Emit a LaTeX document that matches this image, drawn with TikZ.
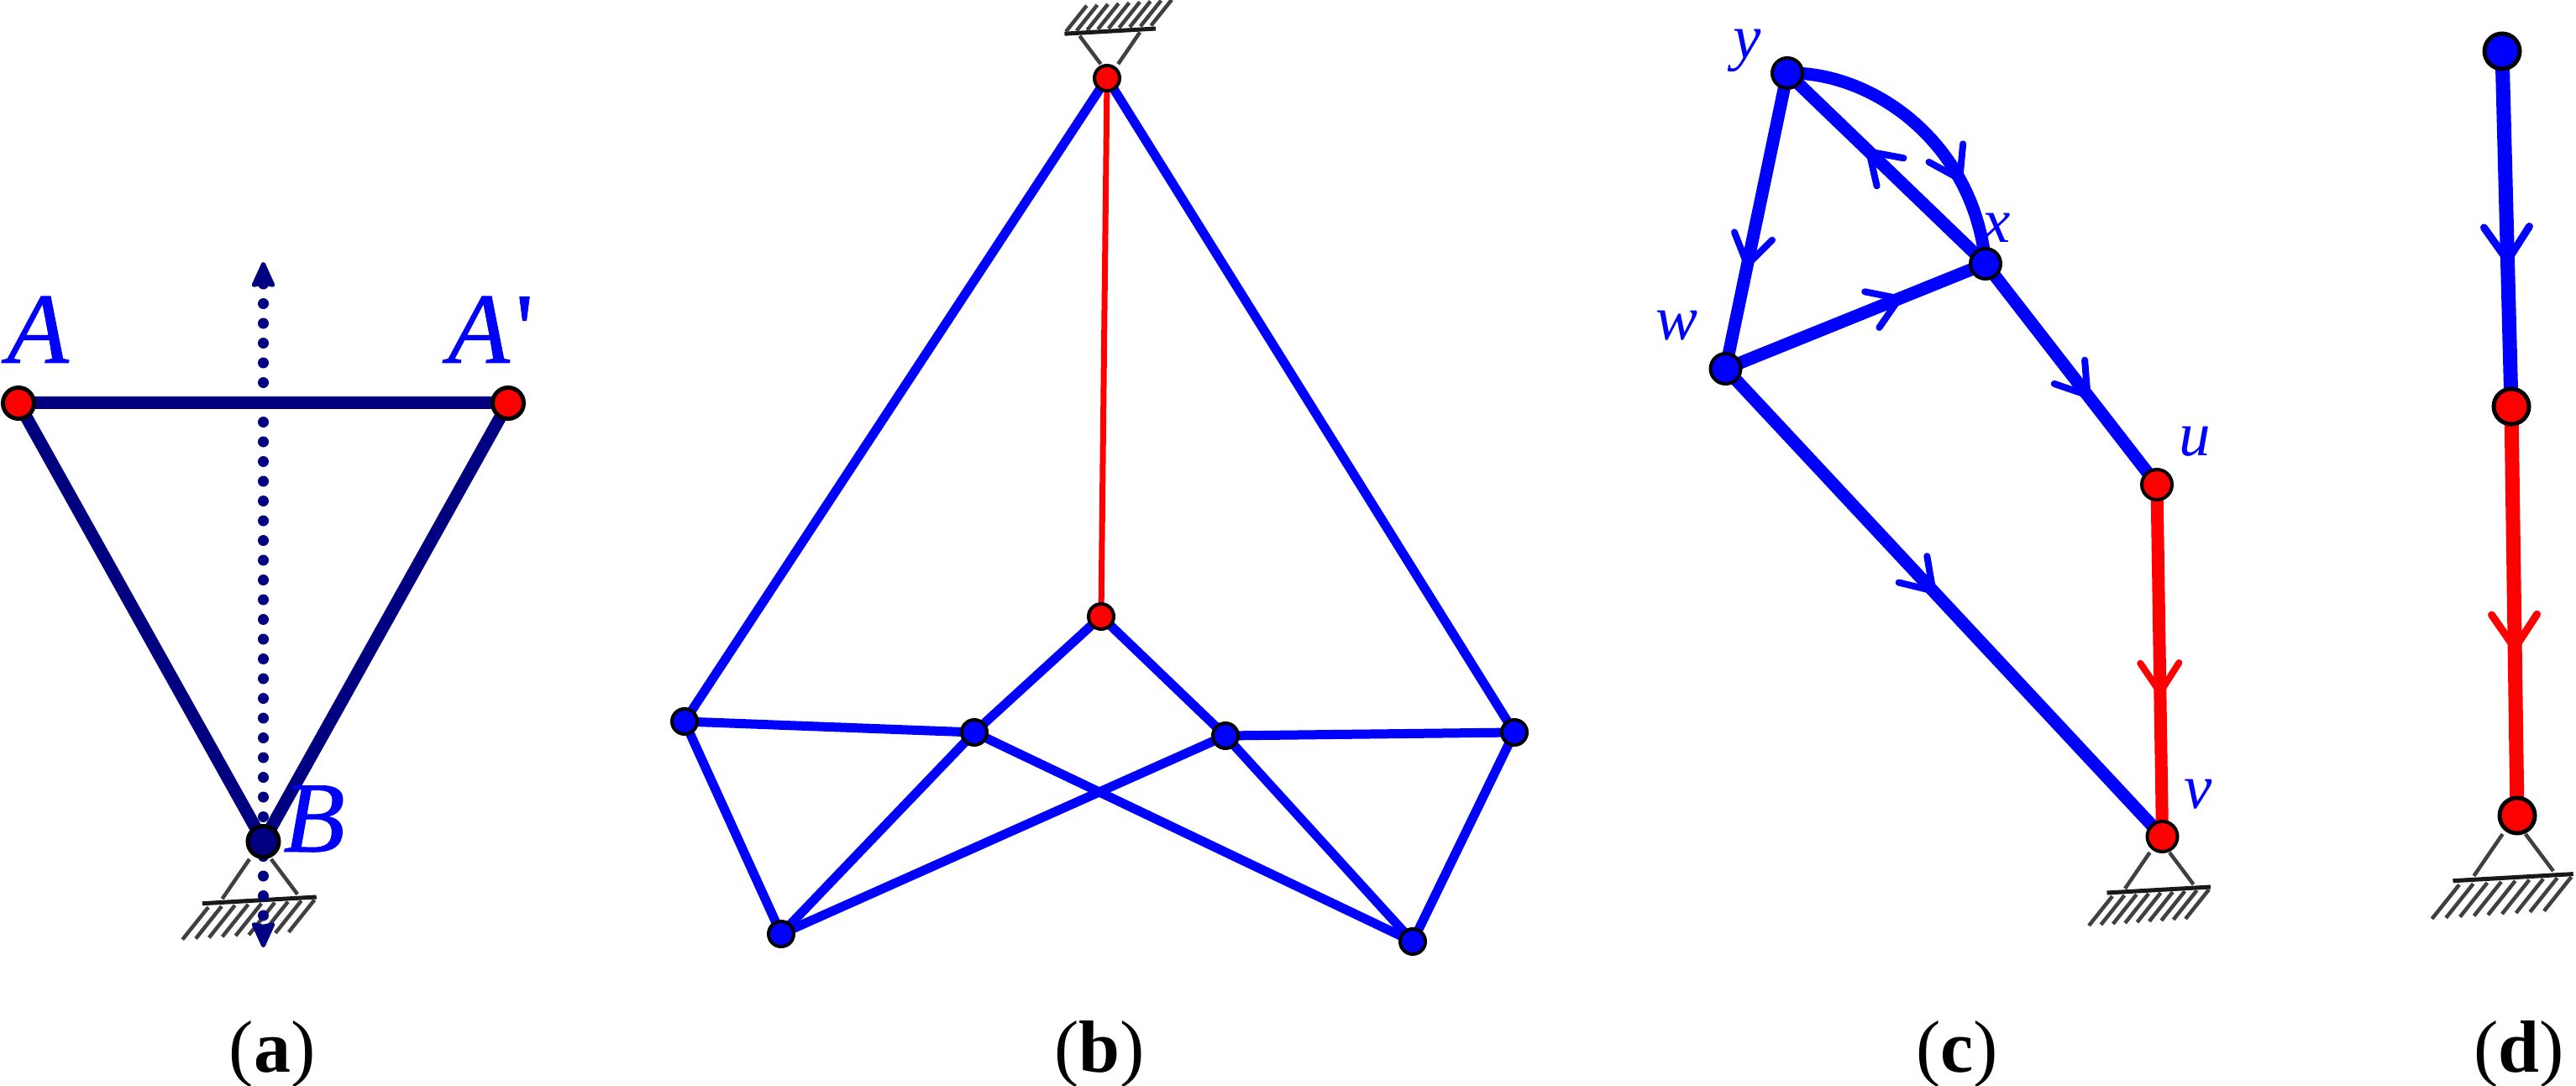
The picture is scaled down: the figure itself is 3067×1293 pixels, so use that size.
\documentclass[tikz,border=0pt]{standalone}
\usepackage{fontspec}
\setmainfont{Liberation Serif}
\newfontfamily\boldishfont[ItalicFeatures={FakeBold=0.7},UprightFeatures={FakeBold=0.7}]{Liberation Serif}
\usetikzlibrary{arrows.meta,decorations.markings}
\definecolor{nv}{HTML}{000080}
\definecolor{bl}{HTML}{0000FF}
\definecolor{rd}{HTML}{FF0000}
\tikzset{
 x=0.5pt,y=-0.5pt,
 px/.style={line width=#1*0.5pt},
 jointA/.style={circle,draw=black,line width=2.5pt,fill=#1,minimum size=18.5pt,inner sep=0pt},
 jointB/.style={circle,draw=black,line width=2pt,fill=#1,minimum size=15pt,inner sep=0pt},
 jointC/.style={circle,draw=black,line width=2pt,fill=#1,minimum size=18pt,inner sep=0pt},
 jointD/.style={circle,draw=black,line width=2.5pt,fill=#1,minimum size=21pt,inner sep=0pt},
 barA/.style={draw=nv,px=15},
 barB/.style={draw=bl,px=11},
 barR/.style={draw=rd,px=7},
 barC/.style={draw=#1,px=15,postaction={decorate}},
 barD/.style={draw=#1,px=17,postaction={decorate}},
 tipat/.style args={#1 in #2}{decoration={markings,mark=at position #1 with {\arrow[#2,line width=4pt]{Straight Barb[length=17.5pt,width=23pt,line cap=round,round]}}}},
 tipbig/.style args={#1 in #2}{decoration={markings,mark=at position #1 with {\arrow[#2,line width=4.5pt]{Straight Barb[length=20pt,width=27pt,line cap=round,round]}}}},
 lab/.style={text=bl,font=\fontsize{#1}{#1}\selectfont\itshape,inner sep=0pt},
 bigl/.style={text=bl,font=\fontsize{60pt}{60pt}\selectfont\boldishfont\itshape,inner sep=0pt},
 captxt/.style={font=\fontsize{44pt}{44pt}\selectfont,inner sep=0pt,anchor=base},
 pics/support/.style={code={
  \draw[black!75,px=4.5] (-15,19)--(-44.5,62) (8.5,19)--(37,57);
  \draw[black!90,px=5] (-66,67)--(57.5,60);
  \foreach \i in {0,...,8}{
   \draw[black!75,px=4.5] (-59.5+14.375*\i,71-1*\i)--++(-28,35);}
 }}
}
\begin{document}
\begin{tikzpicture}
\useasboundingbox (0,0) rectangle (3067,1293);
% --- (a)
\coordinate (a1) at (22,480);
\coordinate (a2) at (605,480);
\coordinate (a3) at (313.5,1002);
\coordinate (T) at (313.5,312);
\coordinate (D) at (313.5,1128);
\path (a3) pic[scale=1.1] {support};
\draw[barA] (a1)--(a2);
\draw[barA] (a1)--(a3);
\draw[barA] (a2)--(a3);
\draw[nv,px=13,line cap=round,dash pattern=on 0pt off 11.75pt,arrows={Stealth[length=17pt,width=15pt,inset=1.5pt,line width=2.5pt,round]-Stealth[length=17pt,width=15pt,inset=1.5pt,line width=2.5pt,round]}] (T)--(D);
\node[jointA=rd] (A) at (a1) {};
\node[jointA=rd] (Ap) at (a2) {};
\node[jointA=nv] (B) at (a3) {};
\node[bigl,anchor=base west] (la) at (8,432) {A};
\node[bigl,anchor=base west] (lap) at (533,432) {A\kern3.5pt{\upshape\symbol{39}}};
\node[bigl,anchor=base west] (lb) at (337,1014) {B};
\node[captxt] (ca) at (324,1276) {(\textbf{a})};
% --- (b)
\coordinate (bt) at (1318,93);
\coordinate (bc) at (1311,734);
\coordinate (bl1) at (815,859);
\coordinate (b2) at (1160,872);
\coordinate (b3) at (1459,876);
\coordinate (br1) at (1803,872);
\coordinate (bbl) at (930,1112);
\coordinate (bbr) at (1682,1121);
\path (bt) pic[scale=0.88,rotate=180] {support};
\draw[barB] (bt)--(bl1);
\draw[barB] (bt)--(br1);
\draw[barB] (bc)--(b2);
\draw[barB] (bc)--(b3);
\draw[barB] (bl1)--(b2);
\draw[barB] (b3)--(br1);
\draw[barB] (bl1)--(bbl);
\draw[barB] (br1)--(bbr);
\draw[barB] (b2)--(bbl);
\draw[barB] (b3)--(bbr);
\draw[barB] (b2)--(bbr);
\draw[barB] (b3)--(bbl);
\draw[barR] (bt)--(bc);
\node[jointB=rd] (nbt) at (bt) {};
\node[jointB=rd] (nbc) at (bc) {};
\node[jointB=bl] (nb1) at (bl1) {};
\node[jointB=bl] (nb2) at (b2) {};
\node[jointB=bl] (nb3) at (b3) {};
\node[jointB=bl] (nb4) at (br1) {};
\node[jointB=bl] (nb5) at (bbl) {};
\node[jointB=bl] (nb6) at (bbr) {};
\node[captxt] (cb) at (1309,1276) {(\textbf{b})};
% --- (c)
\coordinate (cy) at (2128,87);
\coordinate (cx) at (2364,314);
\coordinate (cw) at (2054.5,439);
\coordinate (cu) at (2568,577);
\coordinate (cv) at (2574.5,996);
\path (cv) pic {support};
\node[lab=37.5pt,anchor=base west] (lx) at (2360,289) {x};
\draw[barC=bl,tipat=0.66 in bl] (cy)--(cw);
\draw[barC=bl,tipat=0.715 in bl] (cy) .. controls (2230,85) and (2350,170) .. (cx);
\draw[barC=bl,tipat=0.60 in bl] (cx)--(cy);
\draw[barC=bl,tipat=0.68 in bl] (cw)--(cx);
\draw[barC=bl,tipat=0.607 in bl] (cx)--(cu);
\draw[barC=bl,tipat=0.48 in bl] (cw)--(cv);
\draw[barC=rd,tipat=0.60 in rd] (cu)--(cv);
\node[jointC=bl] (ny) at (cy) {};
\node[jointC=bl] (nx) at (cx) {};
\node[jointC=bl] (nw) at (cw) {};
\node[jointC=rd] (nu) at (cu) {};
\node[jointC=rd] (nv) at (cv) {};
\node[lab=37.5pt,anchor=base west] (ly) at (2063,70) {y};
\node[lab=37.5pt,anchor=base west] (lw) at (1971,405) {w};
\node[lab=37.5pt,anchor=base west] (lu) at (2594,543) {u};
\node[lab=37.5pt,anchor=base west] (lv) at (2600,962) {v};
\node[captxt] (cc) at (2330,1276) {(\textbf{c})};
% --- (d)
\coordinate (d1) at (2979,61);
\coordinate (d2) at (2990,484);
\coordinate (d3) at (2997,971);
\path (d3) pic[scale=1.16] {support};
\draw[barD=bl,tipbig=0.60 in bl] (d1)--(d2);
\draw[barD=rd,tipbig=0.60 in rd] (d2)--(d3);
\node[jointD=bl] (nd1) at (d1) {};
\node[jointD=rd] (nd2) at (d2) {};
\node[jointD=rd] (nd3) at (d3) {};
\node[captxt] (cd) at (2999,1276) {(\textbf{d})};
\end{tikzpicture}
\end{document}
